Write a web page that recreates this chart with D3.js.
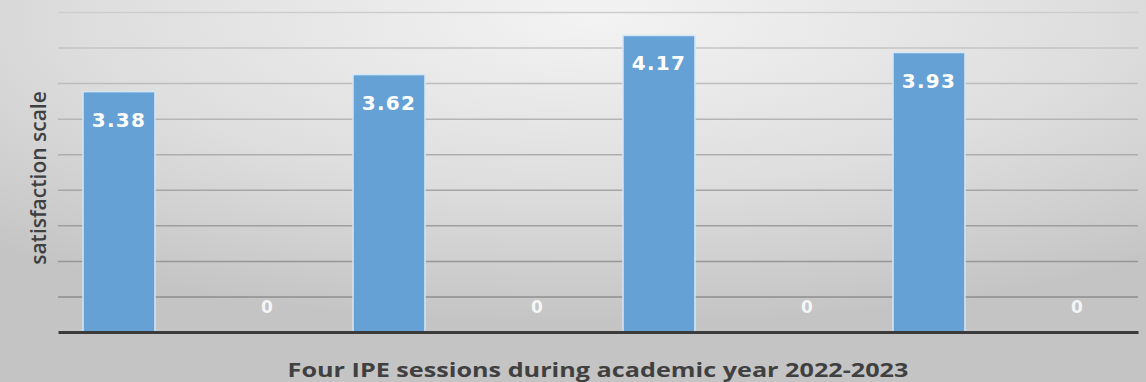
<!DOCTYPE html>
<html>
<head>
<meta charset="utf-8">
<script src="https://cdn.jsdelivr.net/npm/d3@7"></script>
<style>
  body { margin: 0; padding: 0; overflow: hidden; }
  .grid line { stroke-width: 1.5px; }
  .grid path { display: none; }
</style>
</head>
<body>
<div id="chart"></div>
<script>
// data
var sessions = ["Session 1", "Session 2", "Session 3", "Session 4"];
var seriesNames = ["satisfaction", "blank"];
var satisfaction = [3.38, 3.62, 4.17, 3.93];
var blank = [0, 0, 0, 0];
var yTicks = [0.5, 1, 1.5, 2, 2.5, 3, 3.5, 4, 4.5];
var xTitle = "Four IPE sessions during academic year 2022-2023";
var yTitle = "satisfaction scale";

// canvas
var W = 1146, H = 382;
var margin = {top: 12, right: 8, bottom: 50, left: 58},
    width = W - margin.left - margin.right,
    height = H - margin.top - margin.bottom;

var svgRoot = d3.select("#chart").append("svg")
    .attr("width", W)
    .attr("height", H);

// grey radial background
var grad = svgRoot.append("defs").append("radialGradient")
    .attr("id", "bg")
    .attr("cx", 0.52).attr("cy", 0.05).attr("r", 0.8);
grad.append("stop").attr("offset", "0").attr("stop-color", "#f3f3f3");
grad.append("stop").attr("offset", "0.55").attr("stop-color", "#dedede");
grad.append("stop").attr("offset", "1").attr("stop-color", "#c4c4c4");

svgRoot.append("rect")
    .attr("width", W).attr("height", H)
    .attr("fill", "url(#bg)");

var svg = svgRoot.append("g")
    .attr("transform", "translate(" + margin.left + "," + margin.top + ")");

// scales
var x0 = d3.scaleBand().domain(sessions).range([0, width]).padding(0);
var x1 = d3.scaleBand().domain(seriesNames).range([0, x0.bandwidth()])
    .paddingInner(0.514).paddingOuter(0.169);
var y = d3.scaleLinear().domain([0, 4.5]).range([height, 0]);

// gridlines, lighter toward the top
var gridCol = d3.scaleLinear().domain([0.5, 4.5]).range(["#8e8e8e", "#cdcdcd"]);
svg.append("g")
    .attr("class", "grid")
    .call(d3.axisLeft(y).tickValues(yTicks).tickSize(-width).tickFormat(""))
    .selectAll(".tick line")
    .style("stroke", function(d) { return gridCol(d); });

// rows of data for the grouped bars
var rows = sessions.map(function(s, i) {
    return {session: s, values: [
        {key: "satisfaction", value: satisfaction[i]},
        {key: "blank", value: blank[i]}
    ]};
});

var groups = svg.selectAll(".grp")
    .data(rows)
    .enter().append("g")
    .attr("class", "grp")
    .attr("transform", function(d) { return "translate(" + x0(d.session) + ",0)"; });

groups.selectAll("rect")
    .data(function(d) { return d.values.filter(function(v) { return v.value > 0; }); })
    .enter().append("rect")
    .attr("x", function(d) { return x1(d.key); })
    .attr("width", x1.bandwidth())
    .attr("y", function(d) { return y(d.value); })
    .attr("height", function(d) { return height - y(d.value); })
    .attr("fill", "#66a1d6")
    .attr("stroke", "#d4e6f6")
    .attr("stroke-width", 1.5);

// value labels (inside end)
groups.selectAll("text")
    .data(function(d) { return d.values; })
    .enter().append("text")
    .attr("x", function(d) { return x1(d.key) + x1.bandwidth() / 2; })
    .attr("y", function(d) { return d.value > 0 ? y(d.value) + 35 : y(0) - 19; })
    .attr("text-anchor", "middle")
    .style("font-family", "'DejaVu Sans', Verdana, sans-serif")
    .style("font-weight", "bold")
    .style("font-size", function(d) { return d.value > 0 ? "20px" : "17px"; })
    .style("letter-spacing", function(d) { return d.value > 0 ? "1.3px" : "0px"; })
    .style("fill", "#ffffff")
    .style("fill-opacity", function(d) { return d.value > 0 ? 1 : 0.85; })
    .text(function(d) { return d.value > 0 ? d.value.toFixed(2) : "0"; });

// baseline
svg.append("g")
    .attr("class", "x axis")
    .attr("transform", "translate(0," + height + ")")
    .call(d3.axisBottom(x0).tickSize(0).tickFormat(""))
    .select(".domain")
    .attr("stroke", "#3b3b3b")
    .attr("stroke-width", 3);

// axis titles (the x title is a bit stretched sideways in the original)
svg.append("text")
    .attr("transform", "translate(" + (width / 2) + "," + (height + 45) + ") scale(1.26,1)")
    .attr("text-anchor", "middle")
    .style("font-family", "'Open Sans', sans-serif")
    .style("font-weight", "bold")
    .style("font-size", "20px")
    .style("fill", "#404040")
    .text(xTitle);

svg.append("text")
    .attr("transform", "rotate(-90)")
    .attr("x", -(height / 2) - 6)
    .attr("y", -12)
    .attr("text-anchor", "middle")
    .style("font-family", "'Open Sans', sans-serif")
    .style("font-weight", 600)
    .style("font-size", "21px")
    .style("fill", "#404040")
    .text(yTitle);
</script>
</body>
</html>
